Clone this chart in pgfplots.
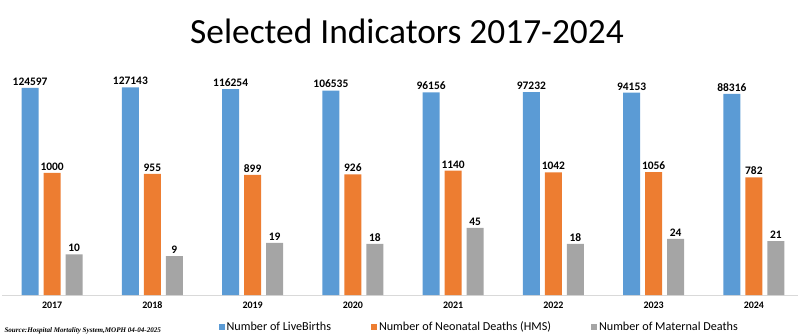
\documentclass[border=0pt]{standalone}
\usepackage{pgfplots}
\pgfplotsset{compat=1.18}
\usepackage{fontspec}
\setmainfont{Carlito}
\newfontfamily\srcfont{Liberation Serif}
\definecolor{cblue}{HTML}{5B9BD5}
\definecolor{corange}{HTML}{ED7D31}
\definecolor{cgray}{HTML}{A5A5A5}
\begin{document}
\begin{tikzpicture}
\path[use as bounding box] (-2bp,-41bp) rectangle (798bp,295bp);
\begin{axis}[
  at={(0,0)}, anchor=south west,
  scale only axis, width=796bp, height=244bp,
  ymode=log, ymin=1, ymax=1e6,
  xmin=-0.5, xmax=7.44,
  ybar=5bp, bar width=17bp,
  axis y line=none,
  axis x line*=bottom,
  x axis line style={draw=black!15, -},
  xtick={0,...,7}, xticklabels={2017,2018,2019,2020,2021,2022,2023,2024},
  major tick length=0pt,
  xticklabel style={font=\fontsize{10}{12}\selectfont\bfseries, yshift=-3bp},
  point meta=rawy,
  nodes near coords={\pgfmathprintnumber[fixed,precision=0,1000 sep={},assume math mode=true]{\pgfplotspointmeta}},
  every node near coord/.append style={font=\fontsize{11.5}{13}\selectfont\bfseries, black, yshift=-1bp},
  legend columns=3,
  legend style={at={(0.5995,-0.131)}, anchor=center, draw=none, fill=none,
    font=\fontsize{12.2}{14}\selectfont, /tikz/every even column/.append style={column sep=38bp}},
  legend image code/.code={\fill[#1] (0bp,-3bp) rectangle (6bp,3bp);},
]
\addplot[draw=none, fill=cblue] coordinates {(0,124597) (1,127143) (2,116254) (3,106535) (4,96156) (5,97232) (6,94153) (7,88316)};
\addplot[draw=none, fill=corange] coordinates {(0,1000) (1,955) (2,899) (3,926) (4,1140) (5,1042) (6,1056) (7,782)};
\addplot[draw=none, fill=cgray] coordinates {(0,10) (1,9) (2,19) (3,18) (4,45) (5,18) (6,24) (7,21)};
\legend{Number of LiveBirths, Number of Neonatal Deaths (HMS), Number of Maternal Deaths}
\end{axis}
\node[font=\fontsize{35.5}{42}\selectfont] at (405bp,264bp) {Selected Indicators 2017-2024};
\node[font=\srcfont\fontsize{7.1}{8}\selectfont\itshape\bfseries, anchor=west] at (-1bp,-36bp) {Source:Hospital Mortality System,MOPH 04-04-2025};
\end{tikzpicture}
\end{document}
